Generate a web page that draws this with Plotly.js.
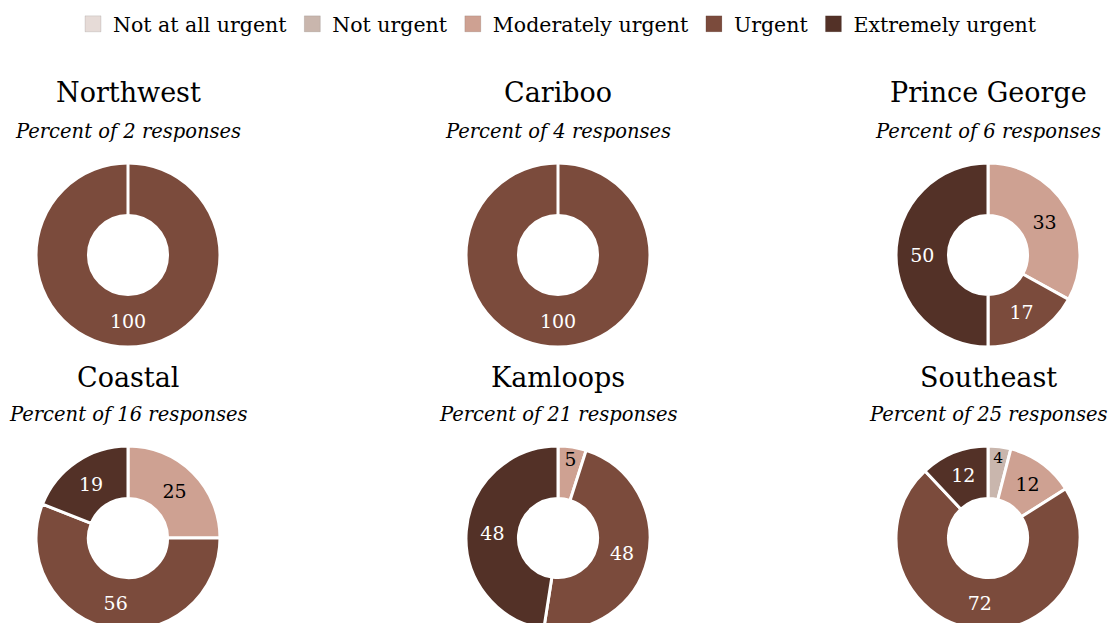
<!DOCTYPE html>
<html>
<head>
<meta charset="utf-8">
<script src="https://cdn.plot.ly/plotly-3.0.1.min.js"></script>
<style>html,body{margin:0;padding:0;overflow:hidden;background:#fff}#chart{width:1115px;height:640px}</style>
</head>
<body>
<div id="chart"></div>
<script>
const categories = ["Not at all urgent", "Not urgent", "Moderately urgent", "Urgent", "Extremely urgent"];
const colors = ["#e6dbd7", "#c9b6ad", "#cea192", "#7b4b3c", "#533127"];
const textColors = ["#000000", "#000000", "#000000", "#ffffff", "#ffffff"];

const regions = ["Northwest", "Cariboo", "Prince George", "Coastal", "Kamloops", "Southeast"];
const responses = [2, 4, 6, 16, 21, 25];
const northwest = [0, 0, 0, 100, 0];
const cariboo = [0, 0, 0, 100, 0];
const princeGeorge = [0, 0, 33, 17, 50];
const coastal = [0, 0, 25, 56, 19];
const kamloops = [0, 0, 5, 48, 48];
const southeast = [0, 4, 12, 72, 12];
const series = [northwest, cariboo, princeGeorge, coastal, kamloops, southeast];

const W = 1115, H = 640;
const colCenters = [128, 558, 988];
const rowCenters = [255, 538];
const R = 92;
const titleY = [92, 377];
const subY = [131, 414];

const FONT = "DejaVu Serif";
const traces = [];
const annotations = [];

// legend-only entries (square swatches)
categories.forEach((cat, k) => {
  traces.push({
    type: "scatter", mode: "markers", x: [null], y: [null], name: cat,
    marker: {symbol: "square", size: 16, color: colors[k], line: {color: "rgba(0,0,0,0.1)", width: 1}},
    showlegend: true, hoverinfo: "skip"
  });
});

series.forEach((vals, i) => {
  const c = i % 3, r = Math.floor(i / 3);
  const cx = colCenters[c], cy = rowCenters[r];
  traces.push({
    type: "pie",
    labels: categories,
    values: vals,
    hole: 0.43,
    sort: false,
    direction: "clockwise",
    rotation: 0,
    marker: {colors: colors, line: {color: "#ffffff", width: 3}},
    textinfo: "value",
    textposition: "inside",
    insidetextorientation: "horizontal",
    textfont: {family: FONT, size: 19, color: textColors},
    hoverinfo: "label+value",
    domain: {x: [(cx - R) / W, (cx + R) / W], y: [1 - (cy + R) / H, 1 - (cy - R) / H]},
    showlegend: false
  });
  annotations.push({
    text: regions[i], x: cx / W, y: 1 - titleY[r] / H, xref: "paper", yref: "paper",
    xanchor: "center", yanchor: "middle", showarrow: false,
    font: {family: FONT, size: 27, color: "#000"}
  });
  annotations.push({
    text: "<i>Percent of " + responses[i] + " responses</i>", x: cx / W, y: 1 - subY[r] / H,
    xref: "paper", yref: "paper", xanchor: "center", yanchor: "middle", showarrow: false,
    font: {family: FONT, size: 19.5, color: "#000"}
  });
});

const layout = {
  width: W, height: H,
  margin: {l: 0, r: 0, t: 0, b: 0},
  paper_bgcolor: "#fff",
  plot_bgcolor: "rgba(0,0,0,0)",
  showlegend: true,
  xaxis: {visible: false, fixedrange: true},
  yaxis: {visible: false, fixedrange: true},
  legend: {
    orientation: "h", x: 0.5, xanchor: "center", y: 1 - 4 / H, yanchor: "top",
    font: {family: FONT, size: 20.5, color: "#000"}, traceorder: "normal",
    itemwidth: 30, itemclick: false
  },
  annotations: annotations
};
Plotly.newPlot("chart", traces, layout, {displayModeBar: false, staticPlot: true});
</script>
</body>
</html>
